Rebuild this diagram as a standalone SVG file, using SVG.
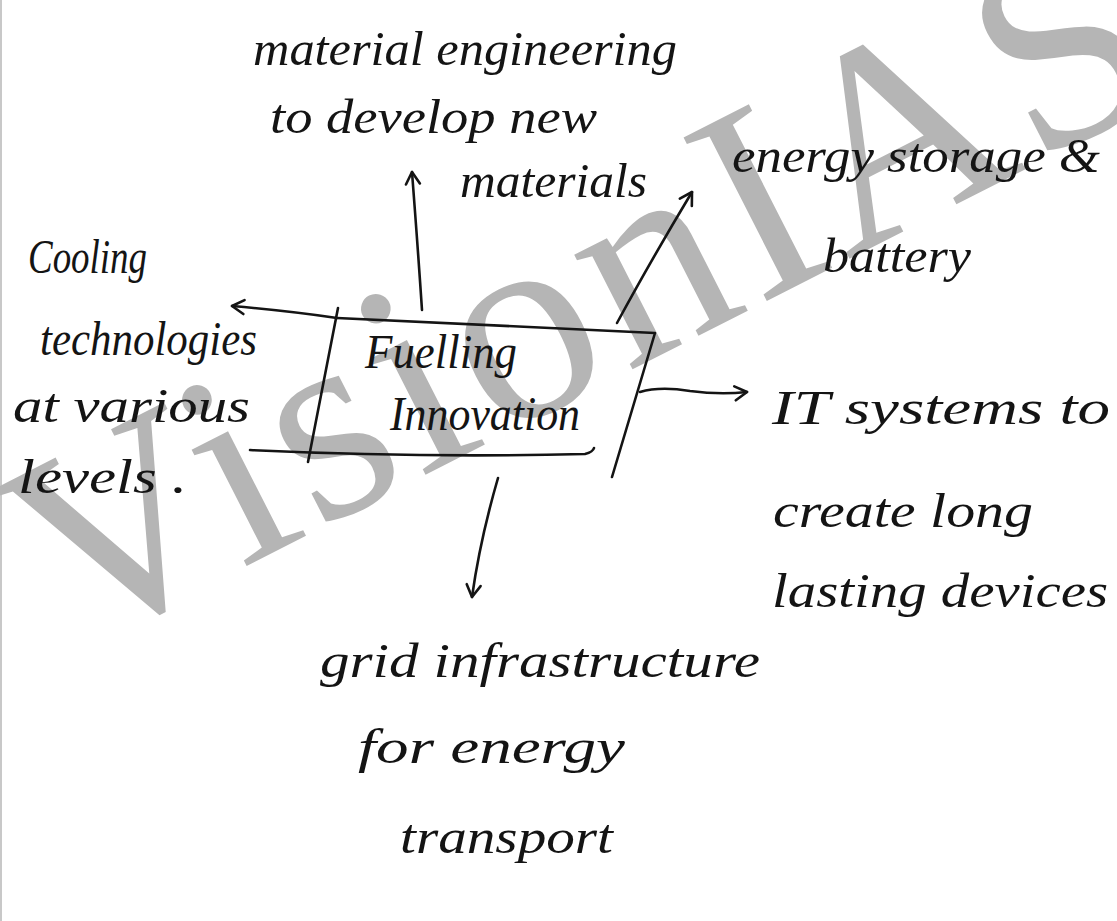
<svg xmlns="http://www.w3.org/2000/svg" width="1117" height="921" viewBox="0 0 1117 921">
<style>
.hw{font-family:"Liberation Serif","DejaVu Serif",serif;font-style:italic;font-size:48px;fill:#141414}
.ln{fill:none;stroke:#141414;stroke-width:2.6;stroke-linecap:round;stroke-linejoin:round}
.wm{font-family:"Liberation Serif","DejaVu Serif",serif;font-size:280px;letter-spacing:7px;fill:#b5b5b5}
</style>
<defs>
<marker id="ah" viewBox="-14 -9 16 18" markerWidth="16" markerHeight="18" refX="0" refY="0" orient="auto" markerUnits="userSpaceOnUse">
<path d="M-12,-7 L0,0 L-12,7" fill="none" stroke="#141414" stroke-width="2.6" stroke-linecap="round" stroke-linejoin="round"/>
</marker>
</defs>
<rect x="0" y="0" width="1117" height="921" fill="#ffffff"/>
<rect x="0" y="0" width="2" height="921" fill="#c8c8c8"/>
<g id="watermark">
<text class="wm" transform="translate(70,656) rotate(-27)">VisionIAS</text>
</g>
<g id="connectors">
<path class="ln" d="M337,318 Q290,311 232,306" marker-end="url(#ah)"/>
<path class="ln" d="M422,310 Q418,250 412,172" marker-end="url(#ah)"/>
<path class="ln" d="M617,323 Q650,262 692,192" marker-end="url(#ah)"/>
<path class="ln" d="M640,392 Q660,386 690,391 Q720,395 747,392" marker-end="url(#ah)"/>
<path class="ln" d="M498,478 Q480,540 472,597" marker-end="url(#ah)"/>
</g>
<g id="center">
<path class="ln" d="M337,318 L655,333 L612,477"/>
<path class="ln" d="M338,308 L308,462"/>
<path class="ln" d="M250,450 Q420,458 585,454 Q593,452 594,448"/>
<text class="hw" x="365" y="368" textLength="152" lengthAdjust="spacingAndGlyphs">Fuelling</text>
<text class="hw" x="390" y="430" textLength="190" lengthAdjust="spacingAndGlyphs">Innovation</text>
</g>
<g id="material">
<text class="hw" x="253" y="65" textLength="424" lengthAdjust="spacingAndGlyphs">material engineering</text>
<text class="hw" x="270" y="133" textLength="327" lengthAdjust="spacingAndGlyphs">to develop new</text>
<text class="hw" x="460" y="197" textLength="187" lengthAdjust="spacingAndGlyphs">materials</text>
</g>
<g id="energy">
<text class="hw" x="732" y="172" textLength="368" lengthAdjust="spacingAndGlyphs">energy storage &amp;</text>
<text class="hw" x="823" y="272" textLength="148" lengthAdjust="spacingAndGlyphs">battery</text>
</g>
<g id="cooling">
<text class="hw" x="28" y="273" textLength="119" lengthAdjust="spacingAndGlyphs">Cooling</text>
<text class="hw" x="40" y="355" textLength="217" lengthAdjust="spacingAndGlyphs">technologies</text>
<text class="hw" x="13" y="422" textLength="237" lengthAdjust="spacingAndGlyphs">at various</text>
<text class="hw" x="18" y="493" textLength="169" lengthAdjust="spacingAndGlyphs">levels .</text>
</g>
<g id="it">
<text class="hw" x="772" y="424" textLength="338" lengthAdjust="spacingAndGlyphs">IT systems to</text>
<text class="hw" x="773" y="527" textLength="260" lengthAdjust="spacingAndGlyphs">create long</text>
<text class="hw" x="772" y="607" textLength="336" lengthAdjust="spacingAndGlyphs">lasting devices</text>
</g>
<g id="grid">
<text class="hw" x="320" y="677" textLength="440" lengthAdjust="spacingAndGlyphs">grid infrastructure</text>
<text class="hw" x="358" y="763" textLength="267" lengthAdjust="spacingAndGlyphs">for energy</text>
<text class="hw" x="400" y="853" textLength="213" lengthAdjust="spacingAndGlyphs">transport</text>
</g>
</svg>
